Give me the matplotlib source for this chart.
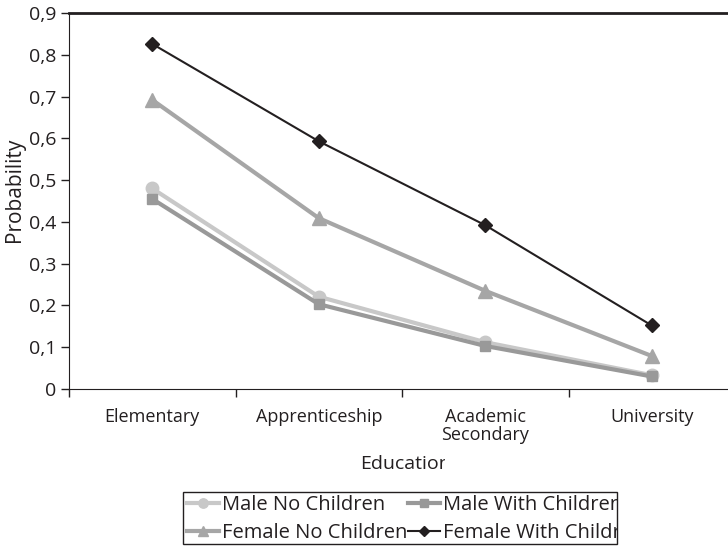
import matplotlib
matplotlib.use("Agg")
import matplotlib.pyplot as plt
from matplotlib.patches import Rectangle

categories = ["Elementary", "Apprenticeship", "Academic\nSecondary", "University"]
male_no_children = [0.480, 0.221, 0.112, 0.033]
male_with_children = [0.455, 0.203, 0.103, 0.030]
female_no_children = [0.692, 0.409, 0.235, 0.079]
female_with_children = [0.826, 0.593, 0.392, 0.152]
yticks = [0, 0.1, 0.2, 0.3, 0.4, 0.5, 0.6, 0.7, 0.8, 0.9]

plt.rcParams["font.family"] = ["Open Sans", "DejaVu Sans"]
plt.rcParams["font.size"] = 13

INK = "#231f20"
W, H = 728, 546
fig = plt.figure(figsize=(W / 100, H / 100), dpi=100)
# right edge of the plot area runs past the image edge, like the original
ax = fig.add_axes([69 / W, 1 - 389 / H, (735 - 69) / W, (389 - 13) / H])

x = list(range(len(categories)))
l1, = ax.plot(x, male_no_children, color="#c8c8c8", lw=3, marker="o", ms=9,
              label="Male No Children", clip_on=False)
l2, = ax.plot(x, male_with_children, color="#999999", lw=3, marker="s", ms=7,
              label="Male With Children", clip_on=False)
l3, = ax.plot(x, female_no_children, color="#a6a6a6", lw=3, marker="^", ms=10,
              label="Female No Children", clip_on=False)
l4, = ax.plot(x, female_with_children, color=INK, lw=1.5, marker="D", ms=7,
              label="Female With Children", clip_on=False)

ax.set_xlim(-0.5, len(categories) - 0.5)
ax.set_ylim(0, 0.9)
ax.set_yticks(yticks)
ax.set_yticklabels(["0" if v == 0 else f"{v:.1f}".replace(".", ",") for v in yticks])
ax.set_xticks(x)
ax.set_xticklabels(categories, linespacing=1.0)
ax.set_xticks([i - 0.5 for i in range(len(categories) + 1)], minor=True)
ax.tick_params(axis="x", which="major", length=0, pad=14)
ax.tick_params(axis="x", which="minor", length=6, width=1, direction="out", color=INK)
ax.tick_params(axis="y", length=6, width=1, direction="out", color=INK, pad=3,
               labelsize=14)
ax.tick_params(labelcolor=INK)

ax.spines["right"].set_visible(False)
ax.spines["top"].set_linewidth(2)
for s in ("top", "left", "bottom"):
    ax.spines[s].set_color(INK)

ax.set_ylabel("Probability", color=INK, fontsize=15)
ax.yaxis.set_label_coords(-44 / (735 - 69), (389 - 190) / (389 - 13))
ax.set_xlabel("Education", color=INK, fontsize=14)
ax.xaxis.set_label_coords((406 - 69) / (735 - 69), -66 / (389 - 13))

leg = fig.legend([l1, l3, l2, l4],
                 [l.get_label() for l in (l1, l3, l2, l4)],
                 ncol=2, frameon=False, loc="upper left", fontsize=14.5,
                 bbox_to_anchor=(187 / W, 1 - 495 / H),
                 handlelength=1.6, handletextpad=0.15, columnspacing=0.0,
                 labelspacing=0.4, borderaxespad=0, borderpad=0,
                 markerscale=0.75)
for t in leg.get_texts():
    t.set_color(INK)

# the legend and the x label are cut off in the original: mask the overflow
fig.add_artist(Rectangle((618 / W, 0), (W - 618) / W, (546 - 490) / H,
                         transform=fig.transFigure, facecolor="white",
                         edgecolor="none", zorder=10))
fig.add_artist(Rectangle((445 / W, 1 - 480 / H), 30 / W, 30 / H,
                         transform=fig.transFigure, facecolor="white",
                         edgecolor="none", zorder=10))
fig.add_artist(Rectangle((183 / W, 1 - 544 / H), (617 - 183) / W, (544 - 492) / H,
                         transform=fig.transFigure, fill=False,
                         edgecolor=INK, lw=1, zorder=11))

fig.savefig("out.png", dpi=100)
